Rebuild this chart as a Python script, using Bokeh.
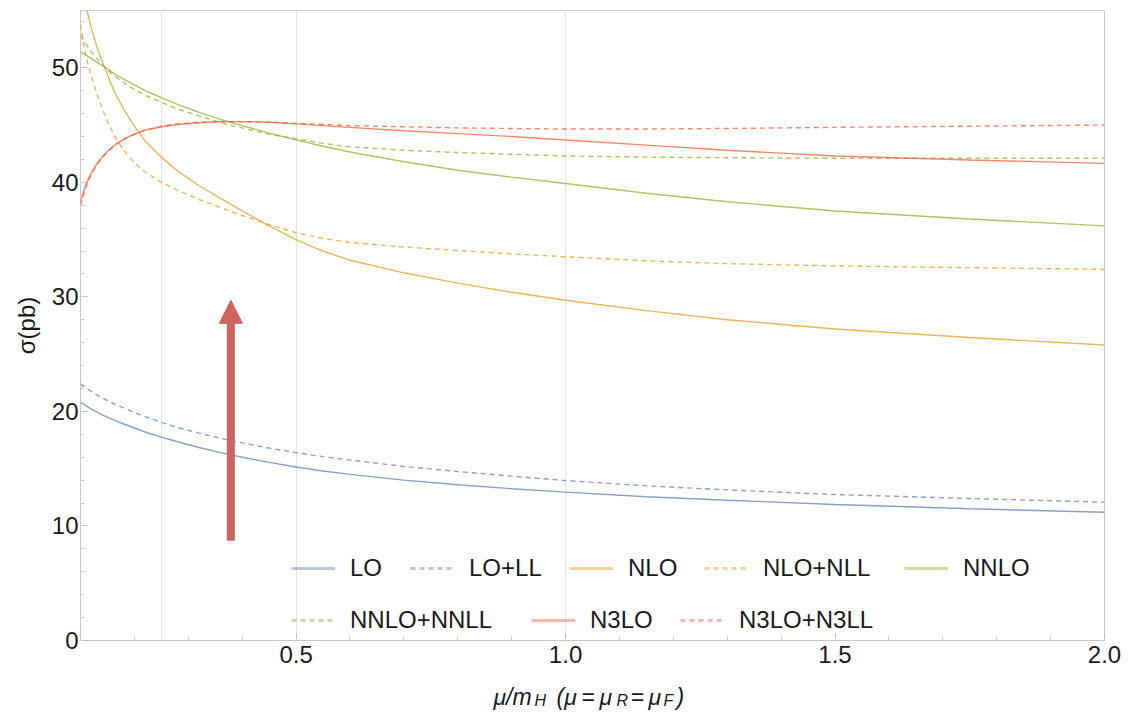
from bokeh.plotting import figure
from bokeh.layouts import column
from bokeh.models import (Range1d, SingleIntervalTicker, FixedTicker, NumeralTickFormatter,
                          Legend, LegendItem, Arrow, NormalHead)
from bokeh.core.properties import value
from bokeh.embed import file_html
from bokeh.resources import INLINE

# ---------------- data ----------------
X = [0.10, 0.11, 0.12, 0.13, 0.14, 0.15, 0.165, 0.18, 0.20, 0.22, 0.25, 0.28, 0.32, 0.36,
     0.40, 0.45, 0.50, 0.55, 0.60, 0.70, 0.80, 0.90, 1.00, 1.15, 1.30, 1.50, 1.75, 2.00]

LO = [20.8, 20.5, 20.2, 19.95, 19.7, 19.5, 19.2, 18.9, 18.55, 18.2, 17.75, 17.35, 16.85, 16.4,
      16.0, 15.55, 15.15, 14.8, 14.5, 14.0, 13.6, 13.25, 12.95, 12.55, 12.25, 11.87, 11.5, 11.2]
LO_LL = [22.4, 22.05, 21.75, 21.45, 21.2, 20.95, 20.6, 20.3, 19.9, 19.55, 19.05, 18.6, 18.1, 17.65,
         17.25, 16.8, 16.4, 16.05, 15.75, 15.2, 14.75, 14.35, 13.96, 13.5, 13.15, 12.74, 12.4, 12.07]
NLO = [57.5, 55.4, 53.5, 51.9, 50.6, 49.4, 47.7, 46.4, 44.9, 43.6, 42.2, 41.0, 39.7, 38.6,
       37.5, 36.2, 35.0, 34.0, 33.2, 32.1, 31.2, 30.4, 29.7, 28.8, 28.0, 27.2, 26.45, 25.8]
NLO_NLL = [53.8, 51.0, 49.3, 47.8, 46.5, 45.3, 43.9, 42.8, 41.7, 40.9, 40.0, 39.3, 38.5, 37.8,
           37.1, 36.3, 35.6, 35.1, 34.75, 34.35, 34.05, 33.75, 33.5, 33.15, 32.9, 32.7, 32.55, 32.4]
NNLO = [51.4, 51.1, 50.8, 50.5, 50.2, 49.9, 49.4, 49.0, 48.5, 48.0, 47.4, 46.8, 46.1, 45.5,
        44.95, 44.3, 43.7, 43.15, 42.65, 41.8, 41.05, 40.45, 39.9, 39.05, 38.3, 37.5, 36.8, 36.2]
NNLO_NNLL = [52.8, 52.1, 51.4, 50.8, 50.3, 49.8, 49.2, 48.7, 48.1, 47.6, 47.0, 46.4, 45.8, 45.2,
             44.75, 44.2, 43.8, 43.4, 43.1, 42.8, 42.6, 42.45, 42.3, 42.2, 42.15, 42.1, 42.1, 42.1]
N3LO = [38.3, 39.8, 40.8, 41.6, 42.2, 42.7, 43.3, 43.75, 44.2, 44.55, 44.85, 45.05, 45.2, 45.3,
        45.3, 45.25, 45.1, 44.95, 44.8, 44.5, 44.25, 44.0, 43.7, 43.25, 42.8, 42.3, 41.95, 41.65]
N3LO_N3LL = [38.0, 39.6, 40.7, 41.5, 42.15, 42.65, 43.3, 43.75, 44.2, 44.55, 44.9, 45.1, 45.25, 45.3,
             45.3, 45.25, 45.15, 45.05, 44.95, 44.85, 44.75, 44.7, 44.65, 44.65, 44.7, 44.8, 44.9, 45.0]

NAMES = ["LO", "LO+LL", "NLO", "NLO+NLL", "NNLO", "NNLO+NNLL", "N3LO", "N3LO+N3LL"]
SERIES = [LO, LO_LL, NLO, NLO_NLL, NNLO, NNLO_NNLL, N3LO, N3LO_N3LL]

GRID_X = [0.25, 0.5, 1.0, 2.0]
ARROW_X = 0.379
ARROW_Y0 = 8.7
ARROW_Y1 = 29.7

# ---------------- styles ----------------
BLUE, ORANGE, GREEN, RED = "#5E81B5", "#E19C24", "#8FB032", "#EB6235"
COLORS = [BLUE, BLUE, ORANGE, ORANGE, GREEN, GREEN, RED, RED]
DASHES = ["solid", "5 4"] * 4
FONT = "Liberation Sans"
TXT = "#1a1a1a"
ARROW_COLOR = "#cd645e"
W = 1124
FRAME_L, FRAME_R = 80, 1104

# legend entry positions (screen px from frame bottom-left)
LEG_POS = [(211, 58), (330, 58), (489, 58), (624, 58), (824, 58),
           (211, 6), (451, 6), (600, 6)]

p = figure(width=W, height=676, x_range=Range1d(0.1, 2.0), y_range=Range1d(0, 55),
           output_backend="svg", toolbar_location=None,
           min_border_left=FRAME_L, min_border_right=W - FRAME_R, min_border_top=10,
           min_border_bottom=36)
p.outline_line_color = "#c8c8c8"
p.background_fill_color = "white"
p.border_fill_color = "white"

p.xaxis.ticker = SingleIntervalTicker(interval=0.5, num_minor_ticks=5)
p.xaxis.formatter = NumeralTickFormatter(format="0.0")
p.yaxis.ticker = SingleIntervalTicker(interval=10, num_minor_ticks=5)
for ax in p.axis:
    ax.axis_line_color = None
    ax.major_tick_in = 7
    ax.major_tick_out = 0
    ax.minor_tick_in = 4
    ax.minor_tick_out = 0
    ax.major_tick_line_color = "#b4b4b4"
    ax.minor_tick_line_color = "#cccccc"
    ax.major_label_text_font = FONT
    ax.major_label_text_font_size = "24px"
    ax.major_label_text_color = TXT
p.xaxis.major_label_standoff = 5
p.yaxis.major_label_standoff = 2
p.yaxis.axis_label = "σ(pb)"
p.yaxis.axis_label_text_font = FONT
p.yaxis.axis_label_text_font_size = "24px"
p.yaxis.axis_label_text_font_style = "normal"
p.yaxis.axis_label_text_color = TXT
p.yaxis.axis_label_standoff = 9

p.xgrid.ticker = FixedTicker(ticks=GRID_X)
p.xgrid.grid_line_color = "#e4e4e4"
p.ygrid.visible = False

for ys, c, d in zip(SERIES, COLORS, DASHES):
    p.line(X, ys, line_color=c, line_width=1.4, line_alpha=0.75, line_dash=d)

# legend: one small legend per entry; swatches come from hidden (visible=False) renderers
for name, ys, c, d, (lx, ly) in zip(NAMES, SERIES, COLORS, DASHES, LEG_POS):
    r = p.line(X, ys, line_color=c, line_width=3, line_alpha=0.45, line_dash=d)
    r.visible = False
    leg = Legend(items=[LegendItem(label=name, renderers=[r])], location=(lx, ly),
                 orientation="horizontal", glyph_width=44, glyph_height=28, label_height=28,
                 label_standoff=15, padding=0, margin=0, spacing=0,
                 border_line_color=None, background_fill_alpha=0, inactive_fill_alpha=0,
                 label_text_font=FONT, label_text_font_size="24px", label_text_color=TXT)
    p.add_layout(leg)

p.add_layout(Arrow(end=NormalHead(size=23, fill_color=ARROW_COLOR, line_color=ARROW_COLOR),
                   x_start=ARROW_X, y_start=ARROW_Y0, x_end=ARROW_X, y_end=ARROW_Y1,
                   line_color=ARROW_COLOR, line_width=8))

# x-axis title (with subscripts) drawn in a thin strip below the plot;
# its frame is aligned with the main frame, so x is in page pixels
QH = 36
q = figure(width=W, height=QH, x_range=Range1d(FRAME_L, FRAME_R), y_range=Range1d(0, QH),
           output_backend="svg", toolbar_location=None,
           x_axis_location=None, y_axis_location=None,
           min_border_left=FRAME_L, min_border_right=W - FRAME_R, min_border_top=0,
           min_border_bottom=0)
q.outline_line_color = None
q.grid.visible = False
q.background_fill_color = "white"
q.border_fill_color = "white"
XT_TEXT = ["μ/m", "H", "(μ\u2009=\u2009μ", "R", "=\u2009μ", "F", ")"]
XT_X = [493, 534, 556, 616, 630, 663, 676]
XT_Y = [16, 12, 16, 12, 16, 12, 16]
XT_SIZE = ["23px", "16px", "23px", "16px", "23px", "16px", "23px"]
q.text(x=XT_X, y=XT_Y, text=XT_TEXT, text_font=value(FONT), text_font_size=XT_SIZE,
       text_font_style="italic", text_color=TXT, text_baseline="alphabetic", text_align="left")

layout = column(p, q, spacing=0)
open("out.html", "w").write(file_html(layout, INLINE))
